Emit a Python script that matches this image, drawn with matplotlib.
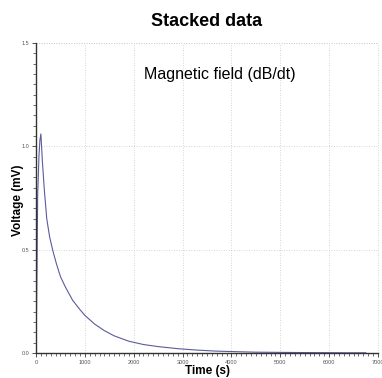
import matplotlib
matplotlib.use("Agg")
import matplotlib.pyplot as plt
from matplotlib.ticker import MultipleLocator

plt.rcParams["font.family"] = ["Liberation Sans", "DejaVu Sans"]

# decay curve (time in s, voltage in mV)
time_s = [0, 20, 35, 40, 60, 80, 100, 130, 170, 220, 280, 350, 420, 500,
          600, 750, 900, 1000, 1200, 1400, 1600, 1900, 2200, 2500, 2900,
          3300, 3700, 4000, 4500, 5000, 5500, 6000, 6400, 6750]
voltage_mv = [0.0, 0.40, 0.78, 0.80, 0.95, 1.03, 1.06, 0.93, 0.79, 0.65,
              0.56, 0.49, 0.43, 0.37, 0.32, 0.255, 0.21, 0.182, 0.14,
              0.108, 0.083, 0.057, 0.041, 0.031, 0.021, 0.014, 0.009,
              0.007, 0.004, 0.003, 0.002, 0.0015, 0.001, 0.001]

x_max = 7000
y_max = 1.5

fig = plt.figure(figsize=(3.82, 3.78), dpi=100)
ax = fig.add_axes([36 / 382, 25 / 378, (378 - 36) / 382, (353 - 43) / 378])

ax.plot(time_s, voltage_mv, color="#5b5b9e", lw=0.8)

ax.set_xlim(0, x_max)
ax.set_ylim(0, y_max)
ax.xaxis.set_major_locator(MultipleLocator(1000))
ax.xaxis.set_minor_locator(MultipleLocator(100))
ax.yaxis.set_major_locator(MultipleLocator(0.5))
ax.yaxis.set_minor_locator(MultipleLocator(0.05))
ax.xaxis.set_major_formatter(lambda v, p: f"{int(v)}")
ax.yaxis.set_major_formatter(lambda v, p: f"{v:.1f}")

for side in ("top", "right"):
    ax.spines[side].set_visible(False)
for side in ("left", "bottom"):
    ax.spines[side].set_color("#333333")
    ax.spines[side].set_linewidth(1.0)

ax.tick_params(which="major", length=3, width=0.6, color="#333333",
               labelsize=4, labelcolor="#555555", pad=2)
ax.tick_params(which="minor", length=2, width=0.5, color="#333333")
ax.grid(True, which="major", color="#c8c8c8", ls=(0, (1, 2)), lw=0.6)
ax.set_axisbelow(True)

# grid lines at the top and right edge
ax.axhline(y_max, color="#c8c8c8", ls=(0, (1, 2)), lw=0.6, clip_on=False)
ax.axvline(x_max, color="#c8c8c8", ls=(0, (1, 2)), lw=0.6, clip_on=False)

fig.text(207 / 382, 1 - 22 / 378, "Stacked data", ha="center", va="center",
         fontsize=13, fontweight="bold")
ax.text(0.538, 0.9, "Magnetic field (dB/dt)", transform=ax.transAxes,
        ha="center", va="center", fontsize=11.5)
fig.text(17.5 / 382, 1 - 200 / 378, "Voltage (mV)", rotation=90, ha="center",
         va="center", fontsize=8.5, fontweight="bold")
fig.text(207 / 382, 1 - 371 / 378, "Time (s)", ha="center", va="center",
         fontsize=8.5, fontweight="bold")

fig.savefig("out.png", dpi=100)
